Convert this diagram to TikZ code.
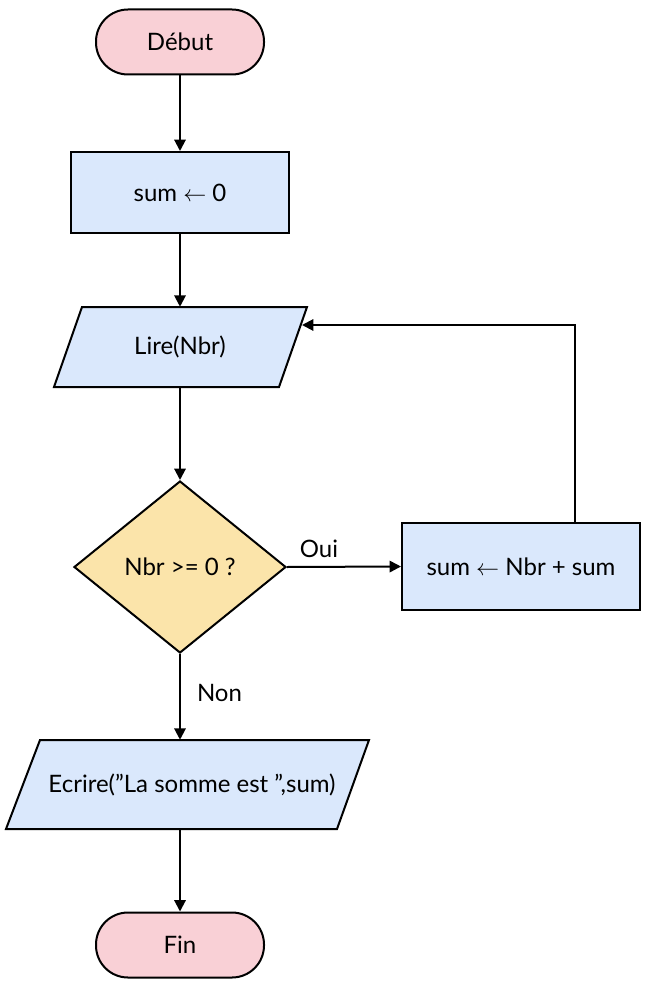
\documentclass[tikz,border=0pt]{standalone}
\usepackage{fontspec}
\setmainfont{Lato}
\usetikzlibrary{arrows.meta,shapes.geometric}
\definecolor{termfill}{HTML}{F9D0D6}
\definecolor{procfill}{HTML}{DAE8FC}
\definecolor{decfill}{HTML}{FBE4AA}
\tikzset{
  base/.style={draw=black, line width=1.5pt, font=\fontsize{18}{21}\selectfont, inner sep=0pt},
  term/.style={base, fill=termfill, rounded corners=24pt, minimum width=126pt, minimum height=48.75pt},
  proc/.style={base, fill=procfill},
  decis/.style={base, fill=decfill, diamond, minimum width=159pt, minimum height=129pt},
  iobox/.style={draw=black, line width=1.5pt, fill=procfill, line join=miter},
  txt/.style={font=\fontsize{18}{21}\selectfont, inner sep=0pt},
  arr/.style={draw=black, line width=1.5pt, -{Triangle[length=8.5pt,width=8.5pt]}},
  lbl/.style={font=\fontsize{18}{21}\selectfont, inner sep=0pt}
}
\begin{document}
\begin{tikzpicture}[x=0.75pt,y=-0.75pt]
\useasboundingbox[fill=white] (0,0) rectangle (650,987);
% nodes
\node[term] (debut) at (180,42) {Début};
\node[proc, minimum width=163.5pt, minimum height=60.75pt] (init) at (180,192.5) {sum $\leftarrow$ 0};
\draw[iobox] (54,387) -- (82,307) -- (307,307) -- (279,387) -- cycle;
\node[txt, minimum height=60pt, minimum width=10pt] (lire) at (180,347) {Lire(Nbr)};
\node[decis] (dec) at (180,567) {Nbr >= 0 ?};
\node[proc, minimum width=178.5pt, minimum height=65.25pt] (add) at (521,566.5) {sum $\leftarrow$ Nbr + sum};
\draw[iobox] (6,829) -- (40,740) -- (369,740) -- (337,829) -- cycle;
\node[txt, minimum height=66.75pt, minimum width=10pt] (ecr) at (192,784.5) {Ecrire(\symbol{34}La somme est \symbol{34},sum)};
\node[term] (fin) at (180,945) {Fin};
\coordinate (lpx) at (575,325);
\coordinate (lin) at (302,325);
% connectors
\draw[arr] (debut) -- (init);
\draw[arr] (init) -- (init.south |- lire.north);
\draw[arr] (lire.south -| dec.north) -- (dec.north);
\draw[arr] (dec.east) -- node[lbl, above=6pt, pos=0.28] {Oui} (add.west);
\draw[arr] (add.north -| lpx) |- (lin);
\draw[arr] (dec.south) -- node[lbl, right=12pt, pos=0.45] {Non} (dec.south |- ecr.north);
\draw[arr] (dec.south |- ecr.south) -- (fin.north);
\end{tikzpicture}
\end{document}
